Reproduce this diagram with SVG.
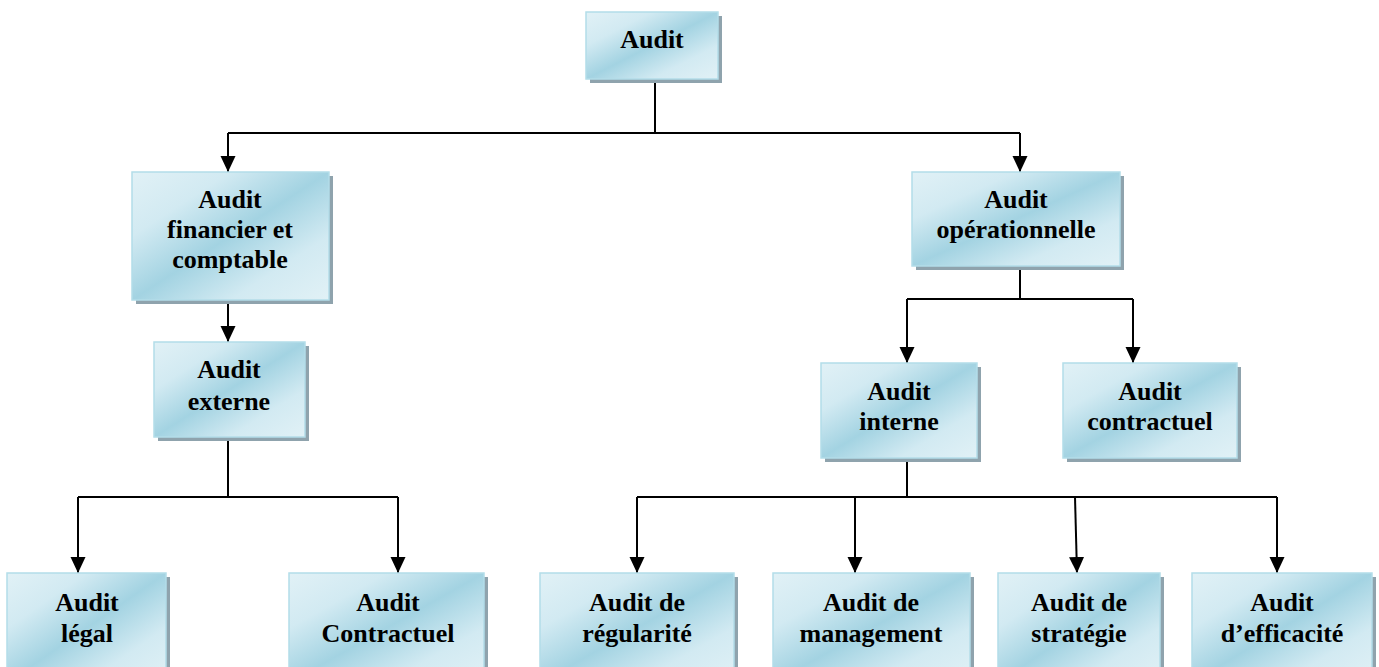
<svg xmlns="http://www.w3.org/2000/svg" width="1379" height="667" viewBox="0 0 1379 667">
<defs>
<linearGradient id="g" x1="0" y1="0" x2="1" y2="1">
<stop offset="0" stop-color="#e1f1f6"/>
<stop offset="0.25" stop-color="#d2eaf2"/>
<stop offset="0.5" stop-color="#a3d3e2"/>
<stop offset="0.75" stop-color="#d2eaf2"/>
<stop offset="1" stop-color="#e1f1f6"/>
</linearGradient>
<marker id="ah" viewBox="0 0 16 16" refX="16" refY="8" markerWidth="16" markerHeight="16" markerUnits="userSpaceOnUse" orient="auto">
<path d="M0,0.5 L16,8 L0,15.5 z" fill="#000"/>
</marker>
</defs>
<style>
.sh{fill:#8fa3ad}
.bx{fill:url(#g);stroke:#b3dde9;stroke-width:1.5}
.t{font-family:"Liberation Serif","Times New Roman",serif;font-weight:bold;font-size:26px;fill:#000;text-anchor:middle}
.c{stroke:#000;stroke-width:2;fill:none}
.a{stroke:#000;stroke-width:2;fill:none;marker-end:url(#ah)}
</style>
<rect width="1379" height="667" fill="#fff"/>
<g id="connectors">
<path class="c" d="M655,79 V133 M228,133 H1020"/>
<path class="a" d="M228,133 V172"/>
<path class="a" d="M1020,133 V172"/>
<path class="a" d="M228,300 V342"/>
<path class="c" d="M228,437 V497 M78,497 H398"/>
<path class="a" d="M78,497 V573"/>
<path class="a" d="M398,497 V573"/>
<path class="c" d="M1020,266 V299 M907,299 H1133"/>
<path class="a" d="M907,299 V363"/>
<path class="a" d="M1133,299 V363"/>
<path class="c" d="M907,458 V497 M637,497 H1277"/>
<path class="a" d="M637,497 V573"/>
<path class="a" d="M855,497 V573"/>
<path class="a" d="M1075,497 L1077,573"/>
<path class="a" d="M1277,497 V573"/>
</g>
<g id="n-audit">
<rect class="sh" x="590" y="16" width="132" height="67"/>
<rect class="bx" x="586" y="12" width="132" height="67"/>
<text class="t" x="652" y="48">Audit</text>
</g>
<g id="n-financier">
<rect class="sh" x="136" y="176" width="197" height="128"/>
<rect class="bx" x="132" y="172" width="197" height="128"/>
<text class="t" x="230" y="208">Audit</text>
<text class="t" x="230" y="238">financier et</text>
<text class="t" x="230" y="268">comptable</text>
</g>
<g id="n-externe">
<rect class="sh" x="158" y="346" width="151" height="95"/>
<rect class="bx" x="154" y="342" width="151" height="95"/>
<text class="t" x="229" y="378">Audit</text>
<text class="t" x="229" y="410">externe</text>
</g>
<g id="n-operationnelle">
<rect class="sh" x="916" y="176" width="208" height="94"/>
<rect class="bx" x="912" y="172" width="208" height="94"/>
<text class="t" x="1016" y="208">Audit</text>
<text class="t" x="1016" y="238">opérationnelle</text>
</g>
<g id="n-interne">
<rect class="sh" x="825" y="367" width="156" height="95"/>
<rect class="bx" x="821" y="363" width="156" height="95"/>
<text class="t" x="899" y="400">Audit</text>
<text class="t" x="899" y="430">interne</text>
</g>
<g id="n-contractuel">
<rect class="sh" x="1067" y="367" width="174" height="95"/>
<rect class="bx" x="1063" y="363" width="174" height="95"/>
<text class="t" x="1150" y="400">Audit</text>
<text class="t" x="1150" y="430">contractuel</text>
</g>
<g id="n-legal">
<rect class="sh" x="11" y="577" width="159" height="110"/>
<rect class="bx" x="7" y="573" width="159" height="110"/>
<text class="t" x="87" y="611">Audit</text>
<text class="t" x="87" y="642">légal</text>
</g>
<g id="n-contractuel2">
<rect class="sh" x="293" y="577" width="195" height="110"/>
<rect class="bx" x="289" y="573" width="195" height="110"/>
<text class="t" x="388" y="611">Audit</text>
<text class="t" x="388" y="642">Contractuel</text>
</g>
<g id="n-regularite">
<rect class="sh" x="544" y="577" width="194" height="110"/>
<rect class="bx" x="540" y="573" width="194" height="110"/>
<text class="t" x="637" y="611">Audit de</text>
<text class="t" x="637" y="642">régularité</text>
</g>
<g id="n-management">
<rect class="sh" x="777" y="577" width="197" height="110"/>
<rect class="bx" x="773" y="573" width="197" height="110"/>
<text class="t" x="871" y="611">Audit de</text>
<text class="t" x="871" y="642">management</text>
</g>
<g id="n-strategie">
<rect class="sh" x="1002" y="577" width="162" height="110"/>
<rect class="bx" x="998" y="573" width="162" height="110"/>
<text class="t" x="1079" y="611">Audit de</text>
<text class="t" x="1079" y="642">stratégie</text>
</g>
<g id="n-efficacite">
<rect class="sh" x="1196" y="577" width="180" height="110"/>
<rect class="bx" x="1192" y="573" width="180" height="110"/>
<text class="t" x="1282" y="611">Audit</text>
<text class="t" x="1282" y="642">d’efficacité</text>
</g>
</svg>
